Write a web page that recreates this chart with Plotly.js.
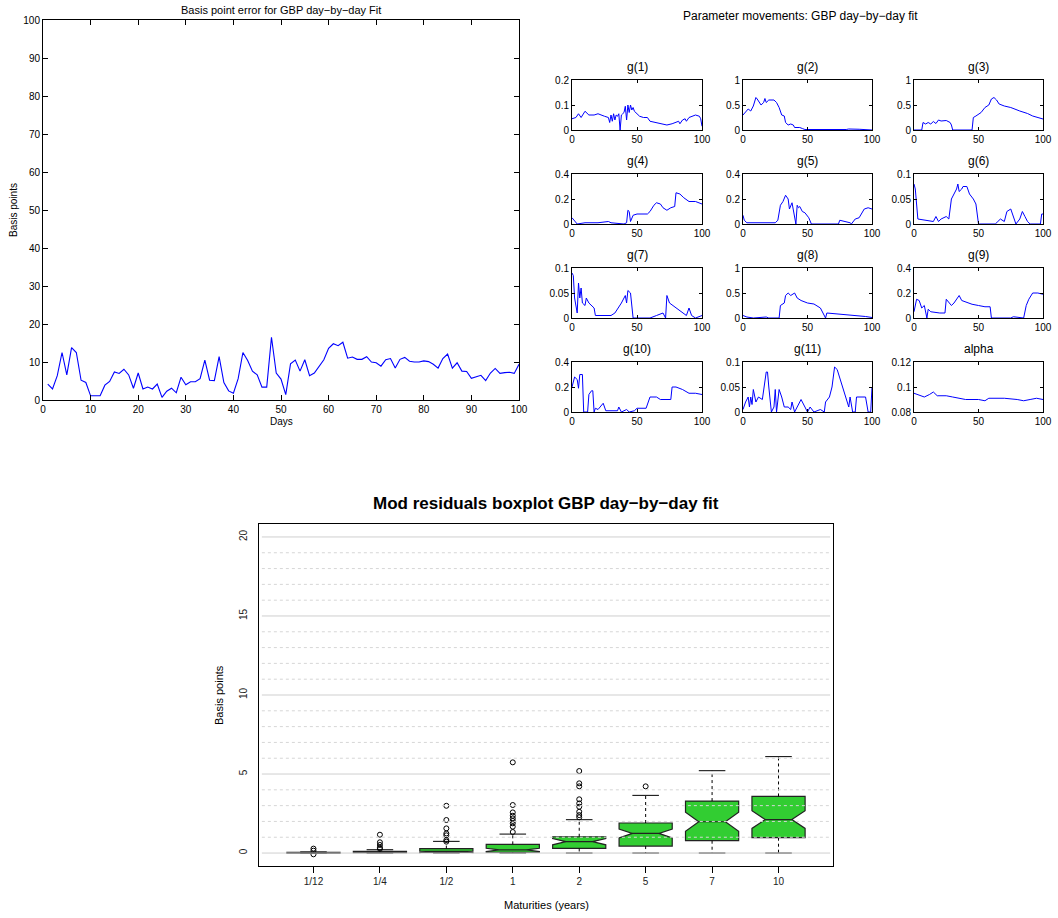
<!DOCTYPE html>
<html>
<head>
<meta charset="utf-8">
<script src="https://cdn.plot.ly/plotly-3.0.1.min.js"></script>
<style>html,body{margin:0;padding:0;background:#fff;}#chart{width:1058px;height:918px;}</style>
</head>
<body>
<div id="chart"></div>
<script>
// ---------- Data: basis point error (top-left) ----------
const days = [1,2,3,4,5,6,7,8,9,10,11,12,13,14,15,16,17,18,19,20,21,22,23,24,25,26,27,28,29,30,31,32,33,34,35,36,37,38,39,40,41,42,43,44,45,46,47,48,49,50,51,52,53,54,55,56,57,58,59,60,61,62,63,64,65,66,67,68,69,70,71,72,73,74,75,76,77,78,79,80,81,82,83,84,85,86,87,88,89,90,91,92,93,94,95,96,97,98,99,100];
const bpError = [4.2,2.9,6.4,12.5,6.6,13.8,12.5,5.2,4.6,1.1,1.1,1.1,3.9,4.9,7.4,7.0,8.1,6.6,3.1,7.1,2.9,3.4,2.9,4.2,0.7,2.3,3.1,1.9,6.0,4.0,4.8,4.8,5.6,10.5,5.2,5.1,11.4,4.6,2.4,1.8,5.6,12.5,10.4,7.6,6.6,3.4,3.4,16.5,7.1,5.5,1.4,9.5,10.5,7.6,10.6,6.4,7.1,8.9,10.6,13.6,14.8,14.3,15.2,11.0,11.3,10.7,10.7,11.4,10.0,9.8,8.9,10.6,10.9,8.4,10.7,11.2,10.2,10.0,10.0,10.3,10.1,9.4,8.4,10.9,12.1,8.4,9.8,7.6,7.5,5.7,6.2,6.5,5.1,7.1,8.3,7.0,7.2,7.3,7.0,9.4];

// ---------- Data: parameter movements (day, value at visible vertices) ----------
const g1_x = [0,3,5,7,10,13,17,20,25,28,29,30,31,32,33,34,35,36,37,38,39,40,41,42,43,44,45,46,47,48,50,52,55,58,60,65,70,73,77,80,82,83,85,87,88,90,92,95,98,99,100];
const g1_y = [0.045,0.05,0.065,0.05,0.075,0.06,0.06,0.065,0.055,0.05,0.03,0.06,0.035,0.065,0.04,0.06,0.055,0.065,0.0,0.06,0.065,0.07,0.095,0.04,0.1,0.07,0.1,0.08,0.09,0.075,0.065,0.055,0.05,0.05,0.035,0.03,0.025,0.02,0.025,0.03,0.035,0.025,0.04,0.045,0.035,0.05,0.055,0.06,0.055,0.045,0.015];
const g2_x = [0,2,4,6,8,10,11,14,16,17,18,20,24,26,28,30,32,33,35,37,39,40,44,46,48,80,82,90,95,100];
const g2_y = [0.3,0.35,0.42,0.38,0.48,0.65,0.62,0.5,0.55,0.63,0.55,0.6,0.6,0.55,0.45,0.3,0.28,0.15,0.1,0.12,0.1,0.05,0.05,0.03,0.01,0.01,0.02,0.015,0.01,0.0];
const g3_x = [0,6,7,9,11,13,15,17,19,21,25,28,29,30,45,46,48,52,55,58,60,62,64,66,70,75,82,88,92,96,100];
const g3_y = [0,0,0.15,0.12,0.15,0.12,0.17,0.13,0.2,0.18,0.19,0.15,0.1,0,0,0.25,0.28,0.35,0.45,0.5,0.62,0.65,0.6,0.52,0.48,0.45,0.38,0.33,0.28,0.25,0.22];
const g4_x = [0,2,4,10,20,28,30,40,42,43,44,45,47,50,58,60,63,65,68,70,73,76,79,80,83,86,90,95,98,100];
const g4_y = [0.05,0.02,0.0,0.01,0.01,0.02,0.01,0.0,0.01,0.11,0.1,0.02,0.07,0.08,0.08,0.1,0.15,0.17,0.16,0.13,0.11,0.13,0.14,0.25,0.24,0.21,0.18,0.18,0.17,0.16];
const g5_x = [0,1,3,15,25,27,29,31,33,35,36,38,39,40,41,42,43,44,46,48,51,53,74,75,80,83,84,87,90,92,94,97,100];
const g5_y = [0.07,0.03,0.01,0.01,0.01,0.03,0.15,0.18,0.23,0.2,0.12,0.17,0.1,0.05,0.0,0.15,0.13,0.14,0.1,0.09,0.05,0.0,0.0,0.03,0.02,0.01,0.0,0.04,0.05,0.08,0.12,0.13,0.12];
const g6_x = [0,1,3,15,17,19,21,25,27,28,29,31,33,34,35,37,38,41,43,46,48,50,63,65,67,70,72,75,77,79,82,84,86,88,90,98,99,100];
const g6_y = [0.08,0.07,0.01,0.005,0.015,0.005,0.01,0.015,0.01,0.03,0.05,0.06,0.07,0.08,0.065,0.07,0.075,0.075,0.06,0.05,0.04,0.0,0.0,0.005,0.01,0.005,0.025,0.03,0.015,0.0,0.01,0.025,0.015,0.005,0.0,0.0,0.02,0.02];
const g7_x = [0,1,2,4,5,6,7,8,10,11,13,17,18,25,30,33,38,41,42,43,45,47,60,65,70,72,73,75,80,85,88,90,92,95,100];
const g7_y = [0.09,0.085,0.04,0.01,0.07,0.04,0.06,0.03,0.025,0.04,0.03,0.02,0.005,0.005,0.005,0.01,0.03,0.045,0.03,0.055,0.05,0.0,0.0,0.005,0.01,0.0,0.045,0.03,0.02,0.01,0.005,0.02,0.005,0.0,0.005];
const g8_x = [0,3,8,18,20,28,29,32,33,35,37,40,42,45,50,55,60,64,65,80,95,100];
const g8_y = [0.05,0.02,0.0,0.02,0.0,0.0,0.25,0.3,0.45,0.5,0.45,0.5,0.4,0.35,0.3,0.28,0.2,0.0,0.1,0.07,0.03,0.01];
const g9_x = [0,2,4,6,8,10,11,13,20,24,25,27,29,31,33,35,37,40,45,50,55,59,60,75,77,85,87,89,92,96,100];
const g9_y = [0.05,0.15,0.14,0.08,0.1,0.0,0.07,0.05,0.04,0.04,0.15,0.12,0.1,0.12,0.15,0.18,0.14,0.13,0.11,0.1,0.09,0.09,0.0,0.0,0.01,0.0,0.1,0.15,0.2,0.2,0.19];
const g10_x = [0,2,4,5,6,8,9,12,13,15,16,17,18,20,24,26,35,36,38,42,44,48,50,57,60,65,68,76,77,80,85,90,95,100];
const g10_y = [0.2,0.28,0.26,0.19,0.3,0.3,0.0,0.0,0.14,0.17,0.17,0.0,0.03,0.02,0.07,0.01,0.01,0.04,0.0,0.02,0.0,0.01,0.03,0.03,0.12,0.12,0.1,0.1,0.2,0.2,0.18,0.15,0.15,0.14];
const g11_x = [0,2,4,5,6,7,8,10,12,15,18,19,20,22,24,25,26,28,30,32,35,37,38,40,45,47,50,52,55,60,63,64,67,69,71,73,76,80,82,83,85,87,88,95,97,99,100];
const g11_y = [0.005,0.02,0.03,0.01,0.03,0.015,0.045,0.02,0.03,0.025,0.08,0.08,0.05,0.0,0.01,0.045,0.0,0.045,0.03,0.01,0.01,0.005,0.02,0.0,0.025,0.015,0.0,0.01,0.0,0.005,0.0,0.02,0.03,0.05,0.09,0.085,0.06,0.03,0.01,0.03,0.0,0.0,0.03,0.03,0.0,0.0,0.05];
const alpha_x = [0,5,8,12,15,18,25,30,40,50,55,58,70,80,85,90,95,100];
const alpha_y = [0.095,0.093,0.092,0.094,0.096,0.093,0.093,0.092,0.09,0.09,0.089,0.091,0.091,0.09,0.089,0.09,0.091,0.09];

const paramNames = ['g(1)','g(2)','g(3)','g(4)','g(5)','g(6)','g(7)','g(8)','g(9)','g(10)','g(11)','alpha'];
const paramX = [g1_x,g2_x,g3_x,g4_x,g5_x,g6_x,g7_x,g8_x,g9_x,g10_x,g11_x,alpha_x];
const paramY = [g1_y,g2_y,g3_y,g4_y,g5_y,g6_y,g7_y,g8_y,g9_y,g10_y,g11_y,alpha_y];
const paramRanges = [[0,0.2],[0,1],[0,1],[0,0.4],[0,0.4],[0,0.1],[0,0.1],[0,1],[0,0.4],[0,0.4],[0,0.1],[0.08,0.12]];
const paramTicks = [[0,0.1,0.2],[0,0.5,1],[0,0.5,1],[0,0.2,0.4],[0,0.2,0.4],[0,0.05,0.1],[0,0.05,0.1],[0,0.5,1],[0,0.2,0.4],[0,0.2,0.4],[0,0.05,0.1],[0.08,0.1,0.12]];
const paramTickText = [['0','0.1','0.2'],['0','0.5','1'],['0','0.5','1'],['0','0.2','0.4'],['0','0.2','0.4'],['0','0.05','0.1'],['0','0.05','0.1'],['0','0.5','1'],['0','0.2','0.4'],['0','0.2','0.4'],['0','0.05','0.1'],['0.08','0.1','0.12']];

// ---------- Data: boxplot ----------
const maturities = ['1/12','1/4','1/2','1','2','5','7','10'];
const boxPos = [1,2,3,4,5,6,7,8];
const boxQ1 = [0.0,0.03,0.04,0.05,0.29,0.44,0.78,0.97];
const boxMedian = [0.02,0.06,0.08,0.2,0.72,1.24,1.98,2.12];
const boxQ3 = [0.04,0.11,0.28,0.55,1.03,1.9,3.29,3.58];
const boxLow = [0.0,0.0,0.0,0.0,0.0,0.0,0.0,0.0];
const boxHigh = [0.07,0.21,0.74,1.2,2.11,3.65,5.21,6.1];
const boxNotch = [0.01,0.02,0.05,0.1,0.2,0.28,0.6,0.56];
const outlierPos = [1,1,1,2,2,2,2,2,3,3,3,3,3,3,3,4,4,4,4,4,4,4,4,4,5,5,5,5,5,5,5,5,5,6];
const outlierVal = [0.28,0.15,-0.08,1.16,0.68,0.51,0.34,0.27,2.99,2.09,1.56,1.24,1.12,0.82,0.72,5.74,3.04,2.57,2.36,2.19,2.03,1.88,1.67,1.33,5.19,4.41,4.22,3.4,3.14,2.93,2.61,2.4,2.26,4.22];

// ---------- Layout helpers ----------
const W = 1058, H = 918;
const dx = (a,b) => [a/W, b/W];
const dy = (top,bottom) => [1 - bottom/H, 1 - top/H];
const FONT = 'Liberation Sans, Arial, sans-serif';

const traces = [];
const layout = {
  width: W, height: H,
  margin: {l:0,r:0,t:0,b:0},
  paper_bgcolor: '#ffffff', plot_bgcolor: '#ffffff',
  showlegend: false,
  font: {family: FONT, size: 10, color: '#000'},
  annotations: [], shapes: []
};

function matlabAxis(domain, range, tickvals, ticktext, ticklen, fontSize) {
  return {
    domain: domain, range: range, tickmode: 'array', tickvals: tickvals, ticktext: ticktext,
    ticks: 'inside', ticklen: ticklen, tickwidth: 1, tickcolor: '#000',
    showline: true, linecolor: '#000', linewidth: 1, mirror: 'ticks',
    showgrid: false, zeroline: false, fixedrange: true,
    tickfont: {family: FONT, size: fontSize, color: '#000'}
  };
}

// Main line chart (axis 1)
const mainTicks = [0,10,20,30,40,50,60,70,80,90,100];
const mainTickText = mainTicks.map(String);
layout.xaxis = matlabAxis(dx(43,519), [0,100], mainTicks, mainTickText, 5, 10);
layout.yaxis = matlabAxis(dy(20,400), [0,100], mainTicks, mainTickText, 5, 10);
layout.xaxis.anchor = 'y'; layout.yaxis.anchor = 'x';
traces.push({type:'scatter', mode:'lines', x: days, y: bpError, xaxis:'x', yaxis:'y',
  line:{color:'#0000ff', width:1.1}, hoverinfo:'skip'});

function ann(text, xpx, ypx, size, opts) {
  layout.annotations.push(Object.assign({
    text: text, xref:'paper', yref:'paper', x: xpx/W, y: 1 - ypx/H,
    xanchor:'center', yanchor:'middle', showarrow:false,
    font:{family: FONT, size: size, color:'#000'}
  }, opts || {}));
}
ann('Basis point error for GBP day\u2212by\u2212day Fit', 281, 10, 11);
ann('Days', 281, 421, 10);
ann('Basis points', 14, 210, 10, {textangle:-90});
ann('Parameter movements: GBP day\u2212by\u2212day fit', 800, 16, 12);

// Small multiples (axes 2..13)
const colL = [572,743,914], colR = [702,872,1043];
const rowT = [80,174,268,362], rowB = [130,224,318,412];
for (let i = 0; i < 12; i++) {
  const r = Math.floor(i/3), c = i % 3, n = i + 2;
  const xa = 'xaxis' + n, ya = 'yaxis' + n;
  layout[xa] = matlabAxis(dx(colL[c], colR[c]), [0,100], [0,50,100], ['0','50','100'], 3, 10);
  layout[ya] = matlabAxis(dy(rowT[r], rowB[r]), paramRanges[i], paramTicks[i], paramTickText[i], 3, 10);
  layout[xa].anchor = 'y' + n; layout[ya].anchor = 'x' + n;
  traces.push({type:'scatter', mode:'lines', x: paramX[i], y: paramY[i], xaxis:'x'+n, yaxis:'y'+n,
    line:{color:'#0000ff', width:1}, hoverinfo:'skip', cliponaxis: true});
  ann(paramNames[i], (colL[c]+colR[c])/2, rowT[r]-13, 12);
}

// Boxplot (axis 14)
const BL = 259, BR = 833, BT = 524, BB = 866;
layout.xaxis14 = {
  domain: dx(BL,BR), range:[0.18,8.82], anchor:'y14', tickmode:'array', tickvals: boxPos, ticktext: maturities,
  ticks:'outside', ticklen:6, tickcolor:'#000', showline:true, linecolor:'#000', linewidth:1, mirror:true,
  showgrid:false, zeroline:false, fixedrange:true, tickfont:{family:FONT, size:10, color:'#222'}
};
layout.yaxis14 = {
  domain: dy(BT,BB), range:[-0.82,20.82], anchor:'x14', tickmode:'array', tickvals:[0,5,10,15,20], ticktext:['0','5','10','15','20'],
  ticks:'', showline:true, linecolor:'#000', linewidth:1, mirror:true, tickangle:-90, ticklabelstandoff:7,
  showgrid:false, zeroline:false, fixedrange:true, tickfont:{family:FONT, size:10, color:'#222'}
};
traces.push({
  type:'box', x: boxPos, q1: boxQ1, median: boxMedian, q3: boxQ3,
  lowerfence: boxQ1, upperfence: boxQ3, notchspan: boxNotch, notched: true, notchwidth: 0.25,
  width: 0.8, whiskerwidth: 0, boxpoints: false, xaxis:'x14', yaxis:'y14',
  fillcolor:'#32cd32', line:{color:'#222222', width:1.2}, hoverinfo:'skip'
});
// whiskers (dashed) and caps
const whX = [], whY = [], capX = [], capY = [];
for (let i = 0; i < boxPos.length; i++) {
  whX.push(boxPos[i], boxPos[i], null, boxPos[i], boxPos[i], null);
  whY.push(boxQ3[i], boxHigh[i], null, boxQ1[i], boxLow[i], null);
  capX.push(boxPos[i]-0.2, boxPos[i]+0.2, null, boxPos[i]-0.2, boxPos[i]+0.2, null);
  capY.push(boxHigh[i], boxHigh[i], null, boxLow[i], boxLow[i], null);
}
traces.push({type:'scatter', mode:'lines', x: whX, y: whY, xaxis:'x14', yaxis:'y14',
  line:{color:'#000', width:1, dash:'3px,3px'}, hoverinfo:'skip', connectgaps:false});
traces.push({type:'scatter', mode:'lines', x: capX, y: capY, xaxis:'x14', yaxis:'y14',
  line:{color:'#000', width:1}, hoverinfo:'skip', connectgaps:false});
traces.push({type:'scatter', mode:'markers', x: outlierPos, y: outlierVal, xaxis:'x14', yaxis:'y14',
  marker:{symbol:'circle-open', size:5, color:'#000', line:{width:1, color:'#000'}}, hoverinfo:'skip'});

// grid lines drawn above the boxes (as in the reference)
for (let g = 0; g <= 20; g++) {
  const major = (g % 5 === 0);
  layout.shapes.push({type:'line', xref:'x14 domain', yref:'y14', x0:0.005, x1:0.995, y0:g, y1:g, layer:'above',
    line:{color: major ? '#cfcfcf' : '#d6d6d6', width:1, dash: major ? 'solid' : '3px,3px'}});
}
ann('<b>Mod residuals boxplot GBP day\u2212by\u2212day fit</b>', 546, 503, 17);
ann('Basis points', 219, 695, 11, {textangle:-90});
ann('Maturities (years)', 546, 905, 11);

Plotly.newPlot('chart', traces, layout, {staticPlot:true, displayModeBar:false});
</script>
</body>
</html>
